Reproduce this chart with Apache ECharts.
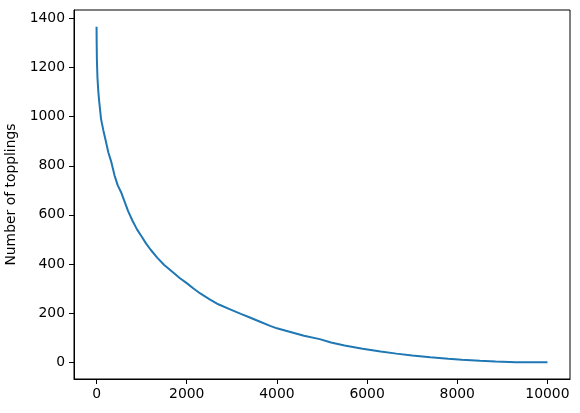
<!DOCTYPE html>
<html>
<head>
<meta charset="utf-8">
<script src="https://cdn.jsdelivr.net/npm/echarts@6/dist/echarts.min.js"></script>
<style>
  html, body { margin: 0; padding: 0; background: #fff; }
  #chart { width: 580px; height: 413px; }
</style>
</head>
<body>
<div id="chart"></div>
<script>
// iteration index
var steps = [0, 3, 8, 20, 40, 60, 100, 150, 200, 260, 320, 400, 470, 550, 620, 700, 800, 900,
  1000, 1100, 1200, 1350, 1500, 1700, 1850, 2000, 2150, 2300, 2500, 2700, 2950, 3200, 3400,
  3600, 3850, 4000, 4300, 4600, 4950, 5200, 5500, 5900, 6300, 6650, 7000, 7400, 7800, 8100,
  8500, 8850, 9150, 9300, 10000];
// number of topplings at each step
var topplings = [1366, 1300, 1230, 1160, 1100, 1060, 990, 945, 905, 855, 820, 760, 720, 690,
  655, 615, 575, 540, 512, 483, 458, 425, 396, 365, 342, 322, 300, 280, 257, 236, 216, 197,
  182, 167, 148, 138, 123, 108, 94, 80, 68, 55, 44, 35, 27, 20, 14, 10, 6, 3, 1, 0, 0];
var xTicks = [0, 2000, 4000, 6000, 8000, 10000];
var yTicks = [0, 200, 400, 600, 800, 1000, 1200, 1400];

var chart = echarts.init(document.getElementById("chart"));
var textStyle = { color: "#000", fontSize: 13.9, fontFamily: "DejaVu Sans" };
var plain = function (v) { return String(v); };

var option = {
  animation: false,
  grid: {
    left: 74, right: 10, top: 10, bottom: 34,
    outerBoundsMode: "none",
    containLabel: false,
    show: true, borderColor: "#000", borderWidth: 1, backgroundColor: "transparent"
  },
  xAxis: {
    type: "value",
    min: -500,
    max: 10500,
    axisLine: { show: true, onZero: false, lineStyle: { color: "#000", width: 1 } },
    axisTick: { show: true, length: 5, customValues: xTicks, lineStyle: { color: "#000" } },
    axisLabel: Object.assign({ margin: 8, customValues: xTicks, formatter: plain }, textStyle),
    splitLine: { show: false }
  },
  yAxis: {
    type: "value",
    min: -68.3,
    max: 1434.3,
    name: "Number of topplings",
    nameLocation: "middle",
    nameGap: 52,
    nameTextStyle: textStyle,
    axisLine: { show: true, onZero: false, lineStyle: { color: "#000", width: 1 } },
    axisTick: { show: true, length: 5, customValues: yTicks, lineStyle: { color: "#000" } },
    axisLabel: Object.assign({ margin: 9, customValues: yTicks, formatter: plain }, textStyle),
    splitLine: { show: false }
  },
  series: [
    {
      type: "line",
      showSymbol: false,
      smooth: false,
      lineStyle: { color: "#1f77b4", width: 2 },
      itemStyle: { color: "#1f77b4" },
      data: steps.map(function (s, i) { return [s, topplings[i]]; })
    }
  ]
};
chart.setOption(option);
</script>
</body>
</html>
